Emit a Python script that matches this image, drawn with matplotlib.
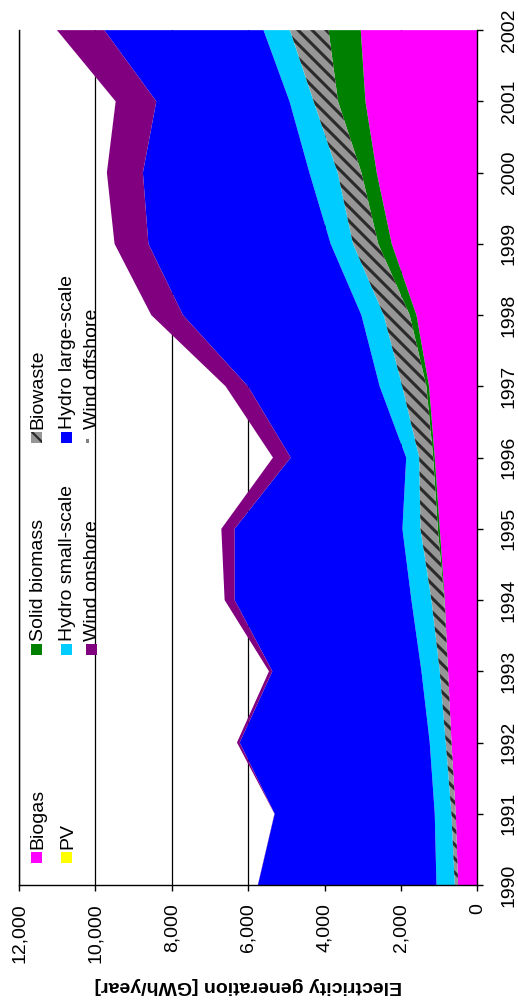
import numpy as np
import matplotlib.pyplot as plt
from matplotlib.patches import Rectangle
from matplotlib.collections import LineCollection
from matplotlib.ticker import FuncFormatter

# Chart is drawn rotated: years run upward on the right, generation runs leftward
years = [1990, 1991, 1992, 1993, 1994, 1995, 1996, 1997, 1998, 1999, 2000, 2001, 2002]

# GWh/year per source
biogas = [503, 563, 676, 765, 852, 983, 1114, 1263, 1593, 2240, 2633, 2929, 3052]
solid_biomass = [0, 0, 0, 0, 10, 50, 40, 70, 176, 354, 401, 718, 844]
biowaste = [87, 113, 149, 218, 338, 455, 366, 632, 681, 660, 621, 637, 1009]
pv = [0, 0, 0, 0, 1, 1, 1, 1, 1, 1, 1, 2, 3]
hydro_small = [479, 438, 420, 479, 524, 472, 340, 590, 584, 584, 740, 630, 690]
hydro_large = [4674, 4192, 4978, 3904, 4629, 4393, 3025, 3449, 4673, 4773, 4360, 3489, 4169]
wind_onshore = [5, 5, 70, 89, 262, 348, 464, 585, 828, 886, 943, 1066, 1242]
wind_offshore = [0, 0, 0, 0, 0, 0, 0, 0, 0, 0, 0, 4, 5]

names = ['Biogas', 'Solid biomass', 'Biowaste', 'PV', 'Hydro small-scale',
         'Hydro large-scale', 'Wind onshore', 'Wind offshore']
series = [biogas, solid_biomass, biowaste, pv, hydro_small, hydro_large,
          wind_onshore, wind_offshore]
colors = ['#FF00FF', '#008000', '#969696', '#FFFF00', '#00CCFF', '#0000FF',
          '#800080', '#FFFFFF']
striped = [False, False, True, False, False, False, False, False]

value_ticks = [0, 2000, 4000, 6000, 8000, 10000, 12000]

plt.rcParams['font.family'] = ['Liberation Sans', 'DejaVu Sans']
plt.rcParams['hatch.linewidth'] = 1.6

fig = plt.figure(figsize=(5.18, 10.05), dpi=100)
ax = fig.add_axes([0.0367, 0.1194, 0.8847, 0.8506])
W, H = 0.8847 * 518, 0.8506 * 1005   # axes size in px, for the stripe pattern


def stripes(poly, step=14.0):
    # dark diagonal stripes clipped to an area, like the Excel pattern fill
    segs = []
    for c in np.arange(0, W + H + step, step):
        segs.append([(0, c / H), (1, (c - W) / H)])
    lc = LineCollection(segs, colors='#2a2a2a', linewidths=2.2,
                        transform=ax.transAxes, zorder=2.5)
    lc.set_clip_path(poly.get_paths()[0], ax.transData)
    ax.add_collection(lc)


yrs = np.array(years)
base = np.zeros(len(years))
for name, vals, col, st in zip(names, series, colors, striped):
    top = base + np.array(vals)
    poly = ax.fill_betweenx(yrs, base, top, facecolor=col, linewidth=0, zorder=2)
    if st:
        stripes(poly)
    base = top

ax.set_xlim(12000, 0)
ax.set_ylim(years[0], years[-1])
ax.set_xticks(value_ticks)
ax.xaxis.set_major_formatter(FuncFormatter(lambda v, p: f'{int(v):,}'))
ax.set_yticks(years)
ax.yaxis.tick_right()

ax.grid(axis='x', color='black', linewidth=0.9, zorder=1)
ax.set_axisbelow(True)

ax.spines['top'].set_visible(False)
for s in ['left', 'right', 'bottom']:
    ax.spines[s].set_color('black')
    ax.spines[s].set_linewidth(1.0)
ax.spines['left'].set_zorder(3)

ax.tick_params(axis='x', direction='out', length=4, width=1, labelsize=14,
               labelrotation=90, pad=9)
ax.tick_params(axis='y', direction='out', length=4, width=1, labelsize=14,
               labelrotation=90, pad=19)
for lbl in ax.get_yticklabels():
    lbl.set_verticalalignment('center')
    lbl.set_horizontalalignment('center')

ax.set_xlabel('Electricity generation [GWh/year]', fontsize=14,
              fontweight='bold', rotation=180, labelpad=10)

# legend, drawn rotated by hand (three rows x three columns)
leg_cols = [0.032, 0.275, 0.523]
leg_rows = [0.039, 0.103, 0.158]
slots = [(0, 0), (1, 0), (2, 0), (0, 1), (1, 1), (2, 1), (1, 2), (2, 2)]
mw, mh = 0.024, 0.0129
for (c, r), name, col, st in zip(slots, names, colors, striped):
    x0 = leg_rows[r]
    y0 = leg_cols[c]
    if name == 'Wind offshore':
        ax.add_patch(Rectangle((x0 - mw / 2, y0 - mh / 2), mw * 0.3, mh * 0.4,
                               transform=ax.transAxes, facecolor='#808080',
                               linewidth=0, zorder=4))
    else:
        ax.add_patch(Rectangle((x0 - mw / 2, y0 - mh / 2), mw, mh,
                               transform=ax.transAxes, facecolor=col,
                               edgecolor='#2a2a2a' if st else 'none',
                               hatch='\\\\' if st else None, linewidth=0,
                               zorder=4))
    ax.text(x0 + 0.003, y0 + mh / 2 + 0.004, name, transform=ax.transAxes,
            rotation=90, ha='center', va='bottom', fontsize=14, zorder=4)

fig.savefig('out.png', dpi=100)
